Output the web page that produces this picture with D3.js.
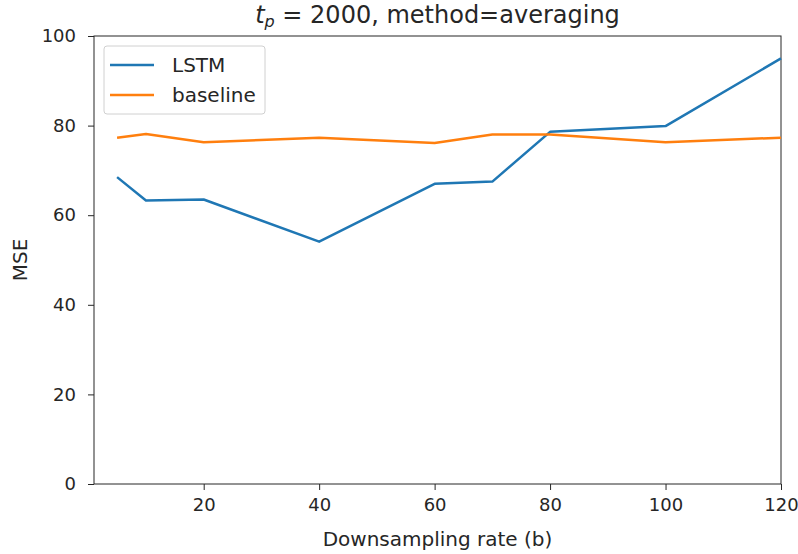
<!DOCTYPE html>
<html>
<head>
<meta charset="utf-8">
<script src="https://cdn.jsdelivr.net/npm/d3@7"></script>
<style>
  body { margin: 0; background: #fff; }
  text { font-family: "DejaVu Sans", sans-serif; fill: #262626; }
</style>
</head>
<body>
<div id="chart"></div>
<script>
// data
const rates = [5, 10, 20, 40, 60, 70, 80, 100, 120];
const lstm = [68.5, 63.3, 63.5, 54.1, 67.0, 67.5, 78.6, 79.9, 95.0];
const baseline = [77.3, 78.1, 76.3, 77.3, 76.1, 78.0, 78.0, 76.3, 77.3];
const xTicks = [20, 40, 60, 80, 100, 120];
const yTicks = [0, 20, 40, 60, 80, 100];

const W = 798, H = 554;
const margin = { top: 36, right: 17, bottom: 70, left: 94 };

const x = d3.scaleLinear().domain([1, 120]).range([margin.left, W - margin.right]);
const y = d3.scaleLinear().domain([0, 100]).range([H - margin.bottom, margin.top]);

const svg = d3.select('#chart').append('svg').attr('width', W).attr('height', H);

// axes
const xAxis = (g) =>
  g.attr('transform', `translate(0,${H - margin.bottom})`)
    .call(d3.axisBottom(x).tickValues(xTicks).tickSize(6).tickPadding(8).tickSizeOuter(0));
const yAxis = (g) =>
  g.attr('transform', `translate(${margin.left},0)`)
    .call(d3.axisLeft(y).tickValues(yTicks).tickSize(6).tickPadding(12).tickSizeOuter(0));

svg.append('g').call(xAxis);
svg.append('g').call(yAxis);
svg.selectAll('.tick text').attr('font-size', 18).attr('font-family', '"DejaVu Sans", sans-serif').attr('fill', '#262626');
svg.selectAll('.tick line').attr('stroke', '#262626');
svg.selectAll('.domain').remove();

// frame
svg.append('rect')
  .attr('x', margin.left).attr('y', margin.top)
  .attr('width', W - margin.left - margin.right)
  .attr('height', H - margin.top - margin.bottom)
  .attr('fill', 'none').attr('stroke', '#262626').attr('stroke-width', 1);

const line = d3.line().x((d) => x(d[0])).y((d) => y(d[1]));
const series = [
  { name: 'LSTM', values: lstm, color: '#1f77b4' },
  { name: 'baseline', values: baseline, color: '#ff7f0e' }
];

svg.append('g').selectAll('path')
  .data(series)
  .join('path')
  .attr('d', (s) => line(rates.map((r, i) => [r, s.values[i]])))
  .attr('fill', 'none')
  .attr('stroke', (s) => s.color)
  .attr('stroke-width', 2.5)
  .attr('stroke-linejoin', 'round');

// legend
const leg = svg.append('g').attr('transform', `translate(${margin.left + 10},${margin.top + 10})`);
leg.append('rect').attr('width', 161).attr('height', 68).attr('rx', 3)
  .attr('fill', '#fff').attr('fill-opacity', 0.8).attr('stroke', '#d0d0d0');
series.forEach((s, i) => {
  const yy = 19 + i * 30;
  leg.append('line').attr('x1', 6).attr('x2', 50).attr('y1', yy).attr('y2', yy)
    .attr('stroke', s.color).attr('stroke-width', 2.5);
  leg.append('text').attr('x', 68).attr('y', yy).attr('dy', '0.35em')
    .attr('font-size', 20).text(s.name);
});

// title
const title = svg.append('text').attr('x', (margin.left + W - margin.right) / 2).attr('y', 23)
  .attr('text-anchor', 'middle').attr('font-size', 24);
title.append('tspan').attr('font-style', 'italic').text('t');
title.append('tspan').attr('font-style', 'italic').attr('font-size', 16).attr('dy', 4).text('p');
title.append('tspan').attr('dy', -4).text(' = 2000, method=averaging');

// axis labels
svg.append('text').attr('x', (margin.left + W - margin.right) / 2).attr('y', 546)
  .attr('text-anchor', 'middle').attr('font-size', 20).text('Downsampling rate (b)');
svg.append('text').attr('transform', `translate(27,${(margin.top + H - margin.bottom) / 2}) rotate(-90)`)
  .attr('text-anchor', 'middle').attr('font-size', 20).text('MSE');
</script>
</body>
</html>
